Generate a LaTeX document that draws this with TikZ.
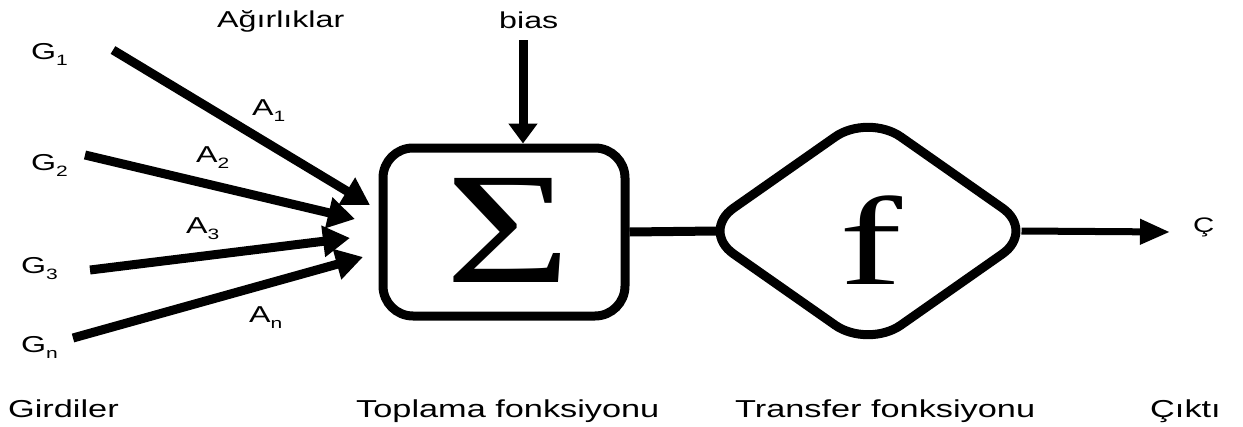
\documentclass[tikz,border=0pt]{standalone}
\usepackage{fontspec}
\usetikzlibrary{arrows.meta,shapes.geometric}
\newfontfamily\labfont[FakeStretch=1.4]{Liberation Sans}
\newfontfamily\symfont{Liberation Serif}
\newcommand\subs[1]{\raisebox{-6pt}{\fontsize{15}{15}\selectfont #1}}
\tikzset{
  lab/.style={inner sep=0pt, anchor=base west, font=\labfont\fontsize{23}{27}\selectfont},
  caption/.style={inner sep=0pt, anchor=base west, font=\labfont\fontsize{24.5}{28}\selectfont},
  wire/.style={line width=9pt},
  inarrow/.style={wire, -{Triangle[length=27pt,width=30pt]}},
  biasarrow/.style={wire, -{Triangle[length=20pt,width=28pt]}},
  outarrow/.style={line width=7pt, -{Triangle[length=30pt,width=24pt]}},
  sumbox/.style={draw, wire, rounded corners=30pt, minimum width=242pt,
    minimum height=168pt, inner sep=0pt},
  tfbox/.style={draw, wire, diamond, rounded corners=40pt, minimum width=338pt,
    minimum height=238pt, inner sep=0pt},
}
\begin{document}
\begin{tikzpicture}[x=1pt, y=-1pt]
\useasboundingbox (0,0) rectangle (1243,426);

% input labels and weights
\node[lab] (g1) at (31,59) {G\subs{1}};
\node[lab] (g2) at (31,170) {G\subs{2}};
\node[lab] (g3) at (21,273) {G\subs{3}};
\node[lab] (gn) at (21,352) {G\subs{n}};
\node[lab] (a1) at (252,115) {A\subs{1}};
\node[lab] (a2) at (196,162) {A\subs{2}};
\node[lab] (a3) at (186,233) {A\subs{3}};
\node[lab] (an) at (249,322) {A\subs{n}};
\node[lab] (weights) at (217,27) {Ağırlıklar};
\node[lab] (bias) at (499,28) {bias};

% summation block
\node[sumbox] (sum) at (504,232) {};
\node[inner sep=0pt, font=\symfont\fontsize{159}{159}\selectfont] (sigma) at (508,230) {\scalebox{1.36}[1]{Σ}};

% transfer block
\node[tfbox] (tf) at (868,231) {};
\node[inner sep=0pt, font=\symfont\fontsize{126}{126}\selectfont] (fn) at (871,240) {\scalebox{1.5}[1]{f}};

% output label
\node[lab, font=\labfont\fontsize{21}{25}\selectfont] (out) at (1193,232) {Ç};

% bottom captions
\node[caption] (c1) at (8,417) {Girdiler};
\node[caption] (c2) at (356,417) {Toplama fonksiyonu};
\node[caption] (c3) at (735,417) {Transfer fonksiyonu};
\node[caption] (c4) at (1150,417) {Çıktı};

% arrow ends
\coordinate (s1) at (113,50);
\coordinate (s2) at (85,155);
\coordinate (s3) at (90,270);
\coordinate (s4) at (73,338);
\coordinate (t1) at (370,205);
\coordinate (t2) at (355,219);
\coordinate (t3) at (350,238);
\coordinate (t4) at (363,257);
\coordinate (bstart) at (523,40);
\coordinate (outtip) at (1170,232);

% connectors
\draw[inarrow] (s1) -- (t1);
\draw[inarrow] (s2) -- (t2);
\draw[inarrow] (s3) -- (t3);
\draw[inarrow] (s4) -- (t4);
\draw[biasarrow] (bstart) -- (bstart |- sum.north);
\draw[wire] (sum.east) -- ([xshift=22pt]tf.west);
\draw[outarrow] ([xshift=-20pt]tf.east) -- (outtip);
\end{tikzpicture}
\end{document}
